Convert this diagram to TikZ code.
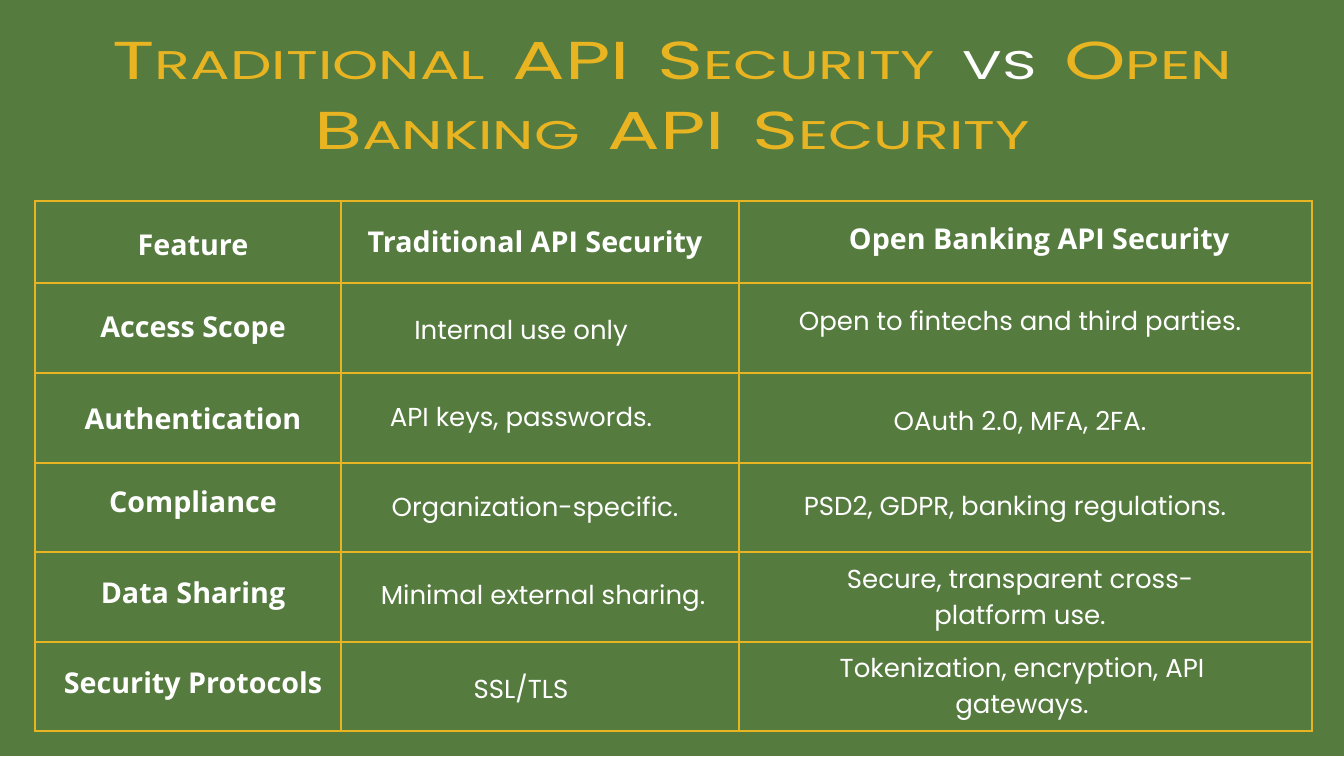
\documentclass[tikz,border=0pt]{standalone}
\usepackage{fontspec}
\setmainfont{Open Sans}
\newfontfamily\titlefont{Poppins}
\newfontfamily\bodyfont{Poppins}
\definecolor{bg}{HTML}{557B3F}
\definecolor{gold}{HTML}{E9B421}
\newcommand{\SC}[2]{{\fontsize{40}{40}\selectfont #1}{\fontsize{30}{30}\selectfont #2}}
\newcommand{\SP}{\hspace{14pt}}
\begin{document}
\begin{tikzpicture}[x=0.75pt,y=-0.75pt,
  hd/.style={font=\bfseries\fontsize{21.5}{24}\selectfont,text=white},
  bd/.style={font=\bodyfont\fontsize{19.5}{27}\selectfont,text=white,align=center},
  ttl/.style={font=\titlefont,text=gold,anchor=base,xscale=1.47}]
\fill[bg] (0,0) rectangle (1344,756);
\useasboundingbox (0,0) rectangle (1344,756);
\node[ttl] (t1) at (672,80) {\SC{T}{RADITIONAL}\SP\SC{API}{}\SP\SC{S}{ECURITY}\SP\textcolor{white}{\SC{}{VS}}\SP\SC{O}{PEN}};
\node[ttl] (t2) at (672,150) {\SC{B}{ANKING}\SP\SC{API}{}\SP\SC{S}{ECURITY}};
\draw[gold,line width=2.2pt] (35,201) rectangle (1312,731);
\foreach \y in {283,373,463,552,642} \draw[gold,line width=2.2pt] (35,\y) -- (1312,\y);
\foreach \x in {341,739} \draw[gold,line width=2.2pt] (\x,201) -- (\x,731);
\node[hd] (h1) at (193,245) {Feature};
\node[hd] (h2) at (535,245) {Traditional API Security};
\node[hd] (h3) at (1039,242) {Open Banking API Security};
\node[hd] (r1) at (193,331) {Access Scope};
\node[hd] (r2) at (193,419) {Authentication};
\node[hd] (r3) at (193,505) {Compliance};
\node[hd] (r4) at (193,596) {Data Sharing};
\node[hd] (r5) at (193,686) {Security Protocols};
\node[bd] (a1) at (521,333) {Internal use only};
\node[bd] (a2) at (521,420) {API keys, passwords.};
\node[bd] (a3) at (535,510) {Organization-specific.};
\node[bd] (a4) at (543,598) {Minimal external sharing.};
\node[bd] (a5) at (521,688) {SSL/TLS};
\node[bd] (b1) at (1020,324) {Open to fintechs and third parties.};
\node[bd] (b2) at (1020,423) {OAuth 2.0, MFA, 2FA.};
\node[bd] (b3) at (1015,509) {PSD2, GDPR, banking regulations.};
\node[bd] (b4) at (1020,601) {Secure, transparent cross-\\platform use.};
\node[bd] (b5) at (1022,689) {Tokenization, encryption, API\\gateways.};
\end{tikzpicture}
\end{document}
